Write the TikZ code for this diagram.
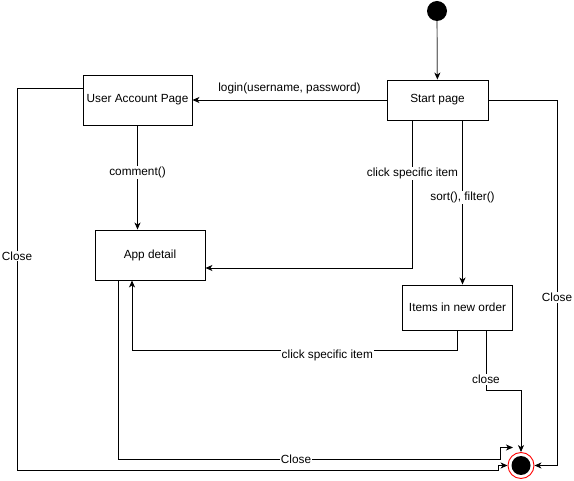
\documentclass[tikz,border=0pt]{standalone}
\usepackage{fontspec}
\setmainfont{Liberation Sans}
\usepackage{tikz}
\usetikzlibrary{arrows.meta,positioning}

\begin{document}
\begin{tikzpicture}[x=1pt, y=-1pt,
  every node/.style={font=\fontsize{11.8}{13}\selectfont},
  state/.style={rectangle, draw, line width=0.9pt, fill=white, inner sep=0pt},
  trans/.style={draw, line width=0.9pt, -{Stealth[length=7pt, width=6pt, inset=2pt]}},
  lbl/.style={fill=white, inner sep=1pt}]
  \useasboundingbox (0,0) rectangle (574,481);
  % states
  \node[circle, fill=black, minimum size=20pt, inner sep=0pt] (init) at (437,11) {};
  \node[state, minimum width=101pt, minimum height=40pt] (start) at (437.5,100) {Start page};
  \node[state, minimum width=109pt, minimum height=50pt] (account) at (137.5,100) {User Account Page};
  \node[state, minimum width=110pt, minimum height=50pt] (detail) at (150,255) {App detail};
  \node[state, minimum width=110pt, minimum height=45pt] (items) at (457.5,307.5) {Items in new order};
  \node[circle, draw=red, line width=0.9pt, fill=white, minimum size=26pt, inner sep=0pt] (final) at (521,465.5) {};
  \node[circle, fill=black, minimum size=19pt, inner sep=0pt] (finaldot) at (final) {};
  % transitions
  \draw[trans, draw=black!55, line width=1.2pt, -{Stealth[length=7pt, width=6pt, inset=2pt, black]}] (init) -- (start);
  \draw[trans] (start) -- node[lbl, above=5pt] {login(username, password)} (account);
  \draw[trans] (account) -- node[lbl, pos=0.45] {comment()} (account |- detail.north);
  \draw[trans] ([xshift=-25pt]start.south) |- node[lbl, pos=0.18] {click specific item} ([yshift=-13pt]detail.east);
  \draw[trans] ([xshift=25pt]start.south) -- node[lbl, pos=0.47] {sort(), filter()} ([xshift=5pt]items.north);
  \draw[trans] (items.south) -- (457.5,350) -| node[lbl, pos=0.2, yshift=-5pt] {click specific item} ([xshift=-18pt]detail.south);
  \draw[trans] ([xshift=28.5pt]items.south) -- node[lbl, pos=0.82] {close} (486,390) -| (final);
  \draw[trans] (start.east) -- (557,100) |- node[lbl, pos=0.27] {Close} (final);
  \draw[trans] ([yshift=12pt]account.west) -- (17,88) -- node[lbl, pos=0.44] {Close} (17,470) -- (498,470) |- (final);
  \draw[trans] ([xshift=-32pt]detail.south) -- (118,459) -- node[lbl, pos=0.466] {Close} (500,459) |- ([shift={(-8pt,18pt)}]final.center);
\end{tikzpicture}
\end{document}
